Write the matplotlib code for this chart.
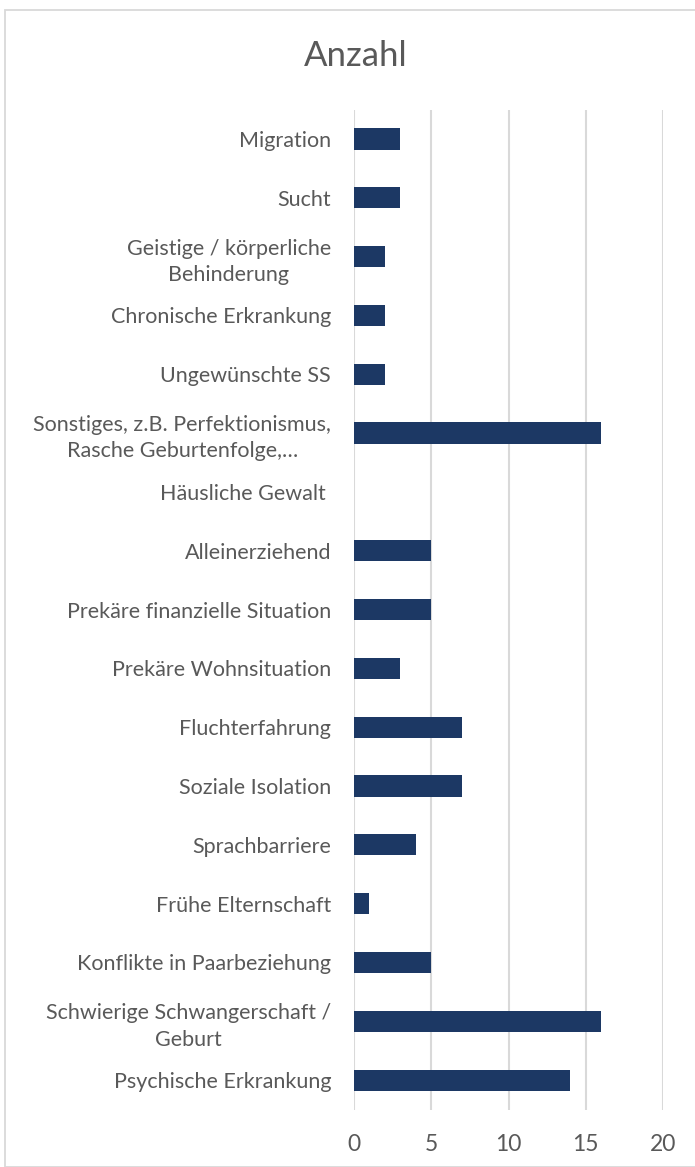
import matplotlib
matplotlib.use("Agg")
import matplotlib.pyplot as plt
from matplotlib.patches import Rectangle

categories = [
    "Psychische Erkrankung",
    "Schwierige Schwangerschaft /\nGeburt",
    "Konflikte in Paarbeziehung",
    "Frühe Elternschaft",
    "Sprachbarriere",
    "Soziale Isolation",
    "Fluchterfahrung",
    "Prekäre Wohnsituation",
    "Prekäre finanzielle Situation",
    "Alleinerziehend",
    "Häusliche Gewalt ",
    "Sonstiges, z.B. Perfektionismus,\nRasche Geburtenfolge,…",
    "Ungewünschte SS",
    "Chronische Erkrankung",
    "Geistige / körperliche\nBehinderung",
    "Sucht",
    "Migration",
]
values = [14, 16, 5, 1, 4, 7, 7, 3, 5, 5, 0, 16, 2, 2, 2, 3, 3]
xticks = [0, 5, 10, 15, 20]
title = "Anzahl"

W, H = 695, 1167
fig = plt.figure(figsize=(W / 100, H / 100), dpi=100)
plt.rcParams['font.family'] = ['Lato', 'DejaVu Sans']
text_color = "#595959"
grid_color = "#D9D9D9"

# figure border
fig.patches.append(Rectangle((5 / W, 0), 1, 1 - 10 / H, transform=fig.transFigure,
                             fill=False, edgecolor=grid_color, linewidth=1.3))

left, right = 354 / W, 663 / W
top, bottom = 1 - 109.5 / H, 1 - 1109.5 / H
ax = fig.add_axes([left, bottom, right - left, top - bottom])

ypos = list(range(len(categories)))
ax.barh(ypos, values, height=0.36, color="#1C3864")
ax.set_xlim(0, 20)
ax.set_ylim(-0.5, len(categories) - 0.5)
ax.set_xticks(xticks)
ax.set_xticklabels([str(t) for t in xticks])
ax.set_yticks(ypos)
ax.set_yticklabels(categories, multialignment="center", linespacing=1.4)
for s in ax.spines.values():
    s.set_visible(False)
ax.xaxis.grid(True, color=grid_color, linewidth=1.5)
ax.set_axisbelow(True)
ax.tick_params(axis="y", length=0, colors=text_color, labelsize=15.5, pad=16.5)
ax.tick_params(axis="x", length=0, colors=text_color, labelsize=16.5, pad=17.5)

fig.text(356 / W, 1 - 56 / H, title, ha="center", va="center",
         fontsize=25, color=text_color)

fig.savefig("out.png", dpi=100)
